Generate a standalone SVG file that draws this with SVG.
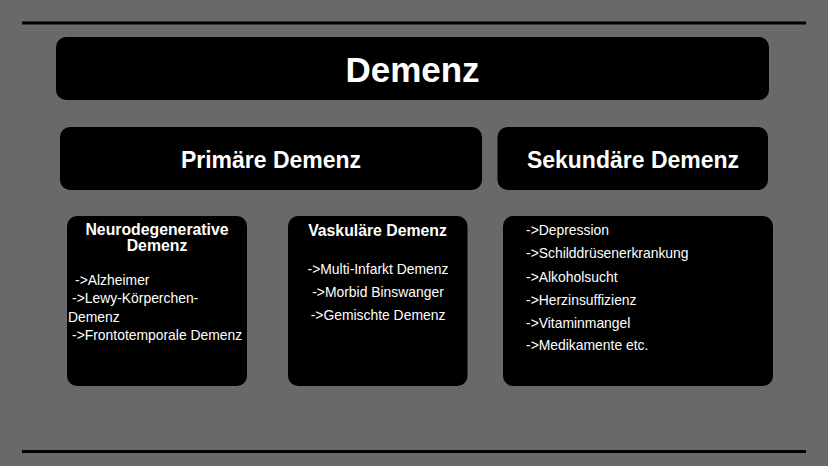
<svg xmlns="http://www.w3.org/2000/svg" width="828" height="466" viewBox="0 0 828 466">
<style>
.box{fill:#000;}
.rule{stroke:#000;stroke-width:3;}
text{font-family:"Liberation Sans",Arial,sans-serif;fill:#fff;}
.h1{font-size:35px;font-weight:bold;text-anchor:middle;}
.h2{font-size:23px;font-weight:bold;text-anchor:middle;}
.h3{font-size:15.8px;font-weight:bold;text-anchor:middle;}
.it{font-size:13.9px;}
.c{text-anchor:middle;}
</style>
<rect width="828" height="466" fill="#696969"/>
<g id="rules">
<line class="rule" x1="22" y1="23" x2="806" y2="23"/>
<line class="rule" x1="22" y1="451.5" x2="806" y2="451.5"/>
</g>
<g id="connectors"></g>
<g id="demenz">
<rect class="box" x="56" y="37" width="713" height="63" rx="10"/>
<text class="h1" x="412.5" y="82">Demenz</text>
</g>
<g id="primaer">
<rect class="box" x="60" y="127" width="422" height="63" rx="10"/>
<text class="h2" x="271" y="168">Primäre Demenz</text>
</g>
<g id="sekundaer">
<rect class="box" x="497.5" y="127" width="270.5" height="63" rx="10"/>
<text class="h2" x="633" y="168">Sekundäre Demenz</text>
</g>
<g id="neuro">
<rect class="box" x="67" y="216" width="180" height="170" rx="10"/>
<text class="h3" x="157" y="235">Neurodegenerative</text>
<text class="h3" x="157" y="251">Demenz</text>
<text class="it" x="75" y="285">-&gt;Alzheimer</text>
<text class="it" x="72" y="303">-&gt;Lewy-Körperchen-</text>
<text class="it" x="68" y="322">Demenz</text>
<text class="it" x="72" y="340">-&gt;Frontotemporale Demenz</text>
</g>
<g id="vaskulaer">
<rect class="box" x="288" y="216" width="179.5" height="170" rx="10"/>
<text class="h3" x="377.5" y="236">Vaskuläre Demenz</text>
<text class="it c" x="378" y="274">-&gt;Multi-Infarkt Demenz</text>
<text class="it c" x="378" y="297">-&gt;Morbid Binswanger</text>
<text class="it c" x="378" y="320">-&gt;Gemischte Demenz</text>
</g>
<g id="ursachen">
<rect class="box" x="503" y="216" width="270" height="170" rx="10"/>
<text class="it" x="526" y="235">-&gt;Depression</text>
<text class="it" x="526" y="258">-&gt;Schilddrüsenerkrankung</text>
<text class="it" x="526" y="281.5">-&gt;Alkoholsucht</text>
<text class="it" x="526" y="304.5">-&gt;Herzinsuffizienz</text>
<text class="it" x="526" y="327.5">-&gt;Vitaminmangel</text>
<text class="it" x="526" y="350">-&gt;Medikamente etc.</text>
</g>
</svg>
